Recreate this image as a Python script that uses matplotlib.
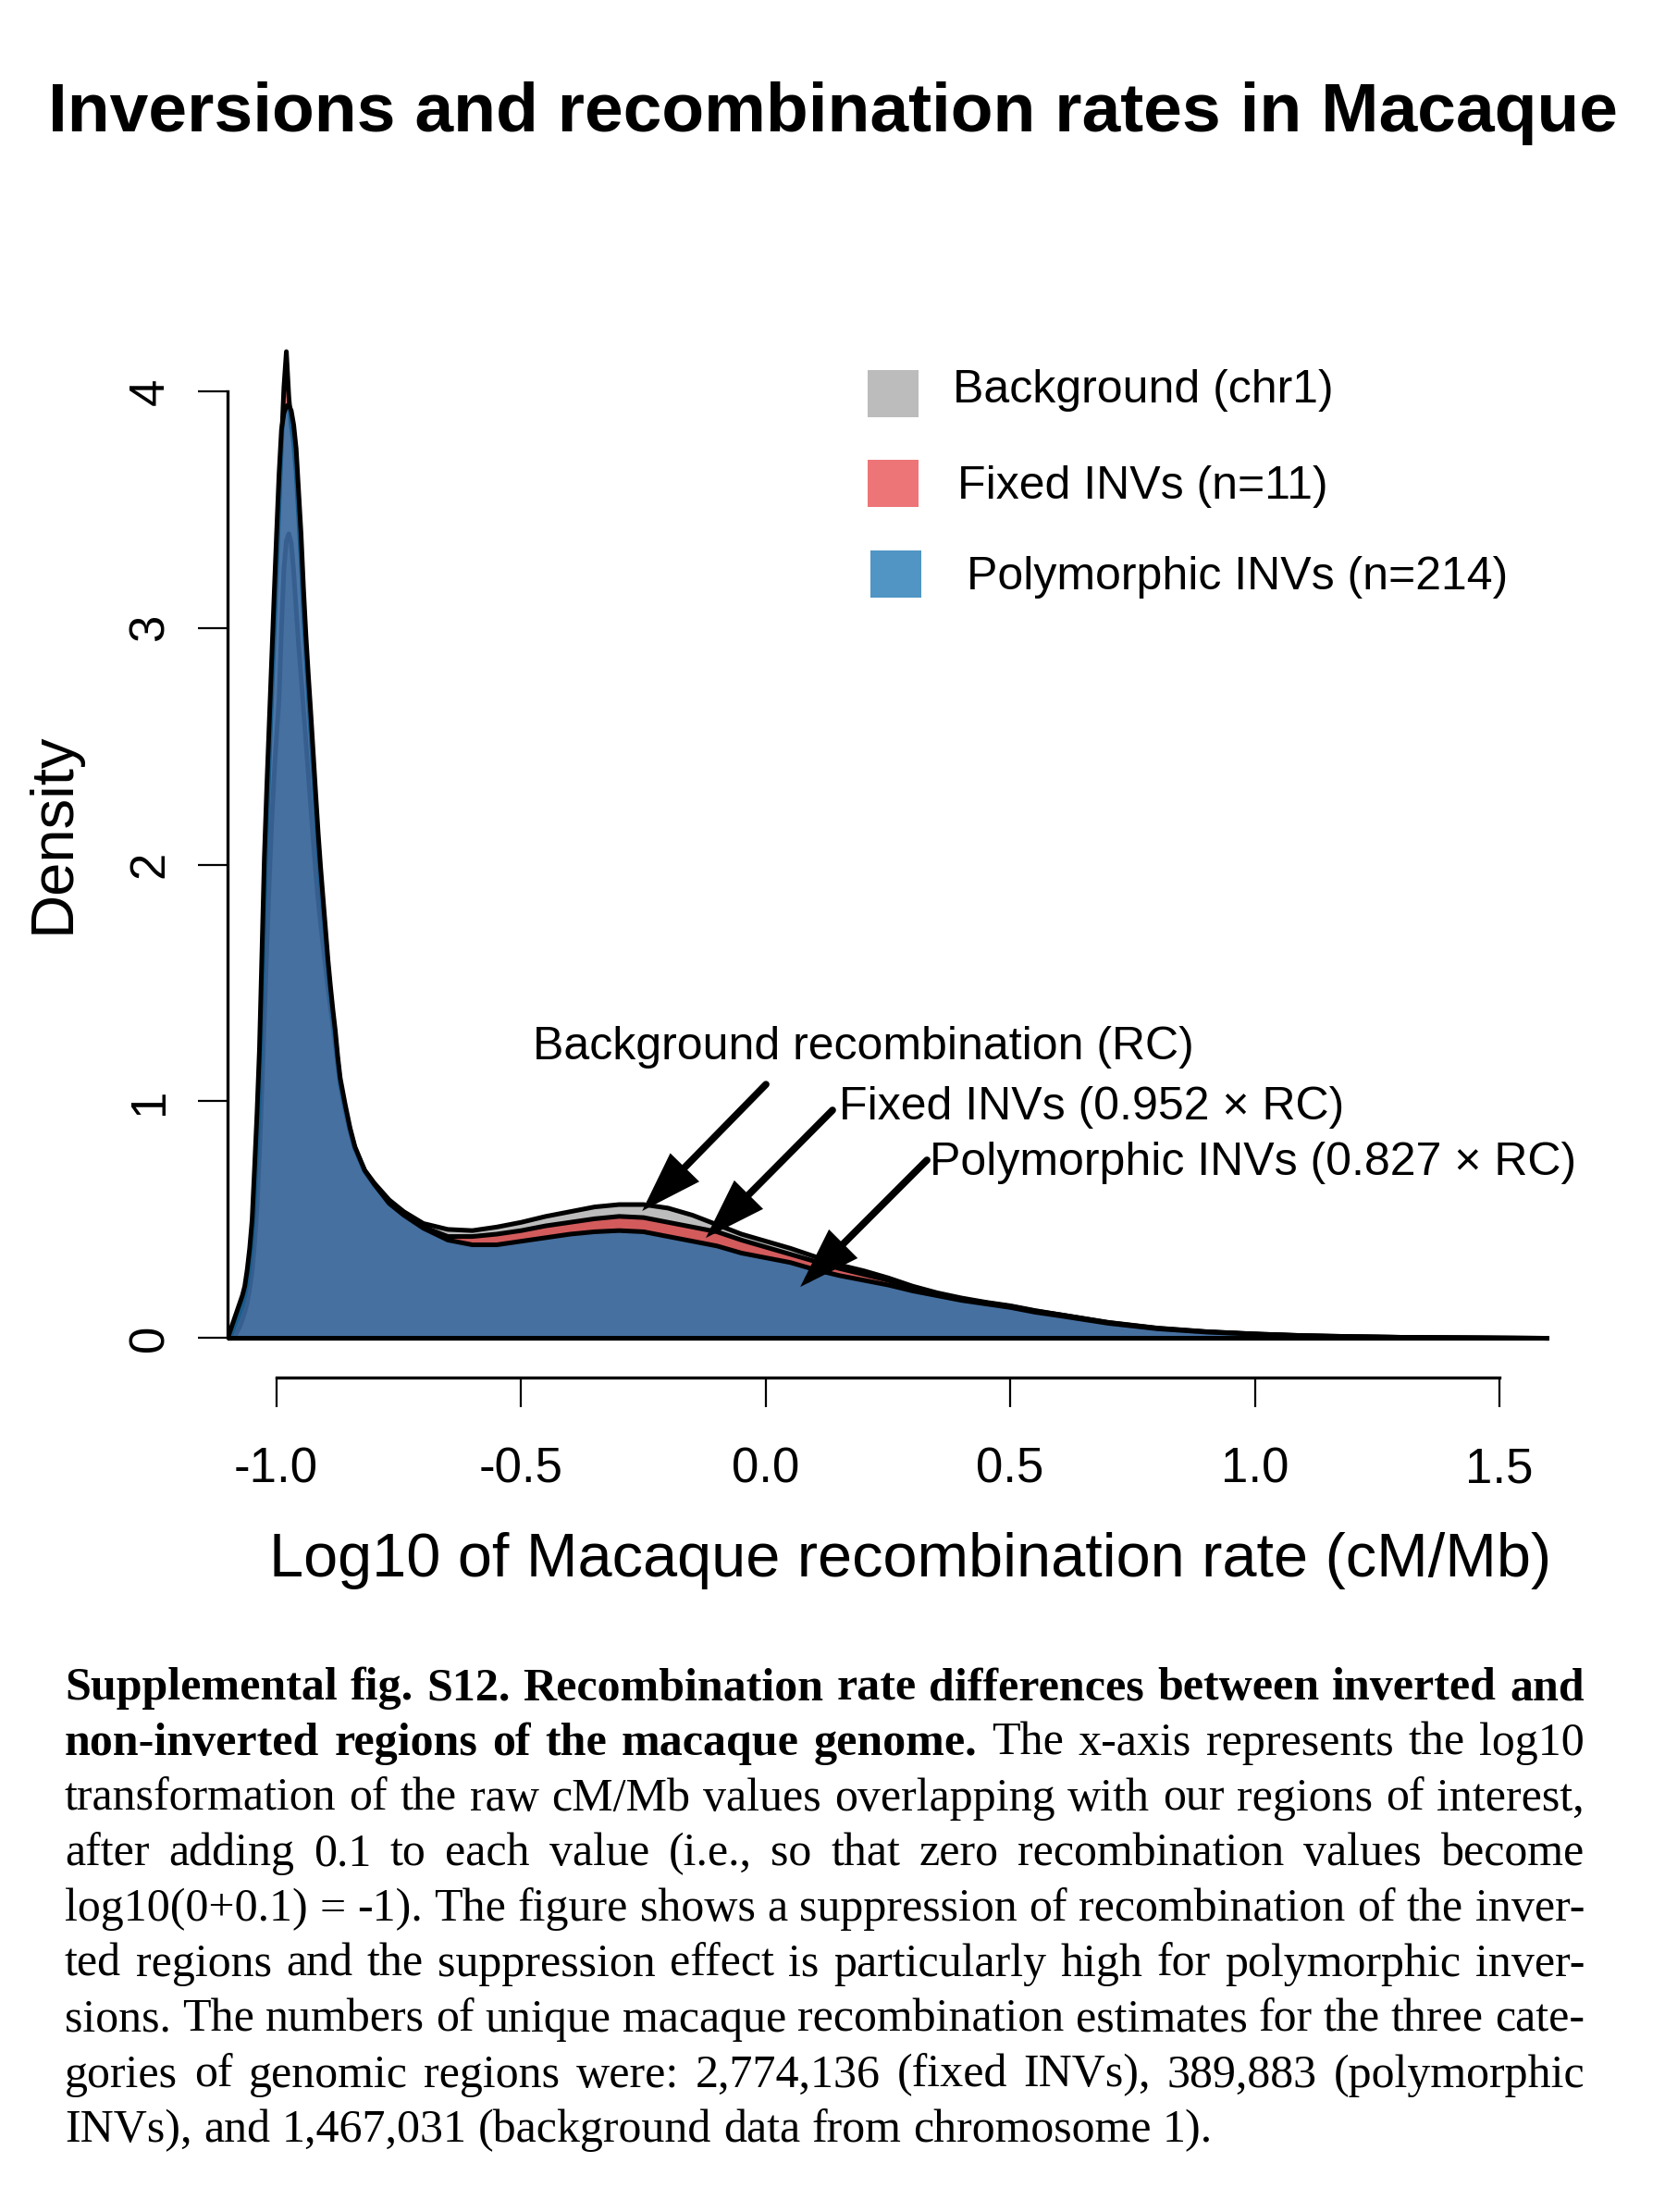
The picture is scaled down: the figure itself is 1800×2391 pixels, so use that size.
import matplotlib
matplotlib.use("Agg")
import matplotlib.pyplot as plt
from matplotlib.patches import Rectangle

plt.rcParams['font.family'] = ['Liberation Sans', 'DejaVu Sans']

# ---- data (density curves) ----
x_grid = [-1.100, -1.095, -1.090, -1.085, -1.080, -1.075, -1.070, -1.065, -1.060, -1.055,
          -1.050, -1.045, -1.040, -1.035, -1.030, -1.025, -1.020, -1.015, -1.010, -1.005,
          -1.000, -0.995, -0.990, -0.985, -0.980, -0.975, -0.970, -0.965, -0.960, -0.955,
          -0.950, -0.945, -0.940, -0.935, -0.930, -0.925, -0.920, -0.915, -0.910, -0.905,
          -0.900, -0.895, -0.890, -0.885, -0.880, -0.875, -0.870,
          -0.86, -0.85, -0.84, -0.82, -0.80, -0.77, -0.74, -0.70,
          -0.65, -0.60, -0.55, -0.50, -0.45, -0.40, -0.35, -0.30, -0.25, -0.20,
          -0.15, -0.10, -0.05, 0.00, 0.05, 0.10, 0.15, 0.20, 0.25, 0.30,
          0.35, 0.40, 0.45, 0.50, 0.55, 0.60, 0.70, 0.80, 0.90, 1.00,
          1.10, 1.20, 1.30, 1.40, 1.50, 1.60]

background = [0.0, 0.0, 0.0, 0.01, 0.03, 0.05, 0.08, 0.11, 0.15, 0.21,
              0.28, 0.40, 0.55, 0.78, 1.05, 1.35, 1.65, 1.93, 2.18, 2.38,
              2.55, 2.70, 3.00, 3.25, 3.37, 3.40, 3.36, 3.24, 3.08, 2.93,
              2.80, 2.66, 2.52, 2.38, 2.24, 2.10, 1.97, 1.85, 1.75, 1.66,
              1.57, 1.48, 1.40, 1.32, 1.24, 1.15, 1.07,
              0.965, 0.875, 0.80, 0.71, 0.655, 0.585, 0.535, 0.485,
              0.46, 0.455, 0.47, 0.49, 0.515, 0.535, 0.555, 0.565, 0.565, 0.55,
              0.52, 0.48, 0.44, 0.41, 0.38, 0.345, 0.31, 0.285, 0.255, 0.22,
              0.192, 0.17, 0.152, 0.137, 0.117, 0.10, 0.067, 0.043, 0.028, 0.018,
              0.011, 0.007, 0.004, 0.0025, 0.0012, 0.0]

fixed = [0.0, 0.01, 0.03, 0.055, 0.08, 0.11, 0.14, 0.18, 0.23, 0.31,
         0.41, 0.58, 0.80, 1.03, 1.38, 1.80, 2.15, 2.45, 2.72, 2.98,
         3.25, 3.52, 3.78, 4.02, 4.17, 3.98, 3.86, 3.78, 3.66, 3.48,
         3.29, 3.07, 2.89, 2.72, 2.56, 2.40, 2.23, 2.07, 1.93, 1.81,
         1.69, 1.57, 1.46, 1.36, 1.27, 1.17, 1.08,
         0.975, 0.88, 0.805, 0.705, 0.648, 0.572, 0.522, 0.47,
         0.43, 0.43, 0.44, 0.455, 0.475, 0.49, 0.505, 0.515, 0.51, 0.49,
         0.47, 0.45, 0.415, 0.385, 0.355, 0.325, 0.295, 0.27, 0.245, 0.21,
         0.187, 0.165, 0.15, 0.135, 0.115, 0.10, 0.066, 0.042, 0.027, 0.018,
         0.011, 0.007, 0.004, 0.0025, 0.0012, 0.0]

polymorphic = [0.0, 0.03, 0.06, 0.09, 0.12, 0.15, 0.18, 0.22, 0.29, 0.38,
               0.50, 0.72, 0.95, 1.22, 1.62, 2.03, 2.33, 2.60, 2.87, 3.14,
               3.40, 3.65, 3.84, 3.91, 3.94, 3.945, 3.92, 3.86, 3.76, 3.58,
               3.40, 3.17, 2.97, 2.80, 2.64, 2.47, 2.30, 2.135, 1.99, 1.86,
               1.73, 1.60, 1.49, 1.39, 1.30, 1.19, 1.10,
               0.99, 0.89, 0.81, 0.71, 0.65, 0.57, 0.52, 0.465,
               0.415, 0.395, 0.395, 0.41, 0.425, 0.44, 0.45, 0.455, 0.45, 0.43,
               0.41, 0.39, 0.36, 0.34, 0.32, 0.29, 0.265, 0.245, 0.225, 0.20,
               0.18, 0.16, 0.145, 0.13, 0.11, 0.095, 0.063, 0.040, 0.026, 0.017,
               0.010, 0.006, 0.004, 0.0025, 0.0012, 0.0]

labels = ["Background (chr1)", "Fixed INVs (n=11)", "Polymorphic INVs (n=214)"]
fills = [(0.737, 0.737, 0.737, 1.0), (0.894, 0.102, 0.110, 0.6), (0.122, 0.467, 0.706, 0.78)]

x_ticks = [-1.0, -0.5, 0.0, 0.5, 1.0, 1.5]
x_ticklabels = ["-1.0", "-0.5", "0.0", "0.5", "1.0", "1.5"]
y_ticks = [0, 1, 2, 3, 4]

W, H = 1800, 2391


def fx(x):
    return x / W


def fy(y):
    return 1 - y / H


fig = plt.figure(figsize=(W / 100, H / 100), dpi=100)
ax = fig.add_axes([fx(245.6), fy(1488.7), fx(1674) - fx(245.6), fy(336.9) - fy(1488.7)])

for ys, fc in zip([background, fixed, polymorphic], fills):
    ax.fill_between(x_grid, 0, ys, facecolor=fc, edgecolor='black', linewidth=3.6, zorder=2)

ax.set_xlim(-1.1, 1.6)
ax.set_ylim(-0.1668, 4.3368)
for s in ['top', 'right']:
    ax.spines[s].set_visible(False)
ax.spines['left'].set_bounds(0, 4)
ax.spines['bottom'].set_bounds(-1, 1.5)
ax.spines['left'].set_linewidth(2.4)
ax.spines['bottom'].set_linewidth(2.4)
ax.set_xticks(x_ticks)
ax.set_xticklabels(x_ticklabels)
ax.set_yticks(y_ticks)
ax.set_yticklabels([str(v) for v in y_ticks])
ax.tick_params(axis='both', direction='out', length=23, width=1.6, labelsize=38)
ax.tick_params(axis='x', pad=31)
ax.tick_params(axis='y', pad=19, labelrotation=90)
for t in ax.get_yticklabels():
    t.set_va('center')

# annotations with arrows
notes = [("Background recombination (RC)", (-0.4754, 1.177), (0.001, 1.071), (-0.252, 0.536)),
         ("Fixed INVs (0.952 \u00d7 RC)", (0.150, 0.923), (0.137, 0.962), (-0.122, 0.422)),
         ("Polymorphic INVs (0.827 \u00d7 RC)", (0.3355, 0.688), (0.330, 0.751), (0.071, 0.215))]
for txt, tpos, start, end in notes:
    ax.text(tpos[0], tpos[1], txt, fontsize=36, ha='left', va='baseline', zorder=4)
    ax.annotate('', xy=end, xytext=start,
                arrowprops=dict(arrowstyle='-|>,head_length=0.9,head_width=0.3', color='black',
                                lw=5.5, mutation_scale=40, shrinkA=0, shrinkB=0,
                                joinstyle='miter'), zorder=4)

# legend drawn by hand
leg_boxes = [(938, 400), (938, 497), (941, 595)]
leg_text = [(1030, 435), (1035, 539), (1045, 637)]
for (bx, by), (tx, ty), lab, fc in zip(leg_boxes, leg_text, labels, fills):
    fig.patches.append(Rectangle((fx(bx), fy(by + 51)), 55 / W, 51 / H, transform=fig.transFigure,
                                 facecolor=fc, edgecolor='none'))
    fig.text(fx(tx), fy(ty), lab, fontsize=36, ha='left', va='baseline')

# titles and axis labels
fig.text(0.5, fy(142), "Inversions and recombination rates in Macaque", fontsize=54,
         fontweight='bold', ha='center', va='baseline')
fig.text(fx(984), fy(1687), "Log10 of Macaque recombination rate (cM/Mb)", fontsize=48,
         ha='center', va='center')
fig.text(fx(58), fy(900), "Density", fontsize=47, rotation=90, ha='center', va='center')

# caption, justified
caption = [
    [("Supplemental fig. S12. Recombination rate differences between inverted and", 'bold')],
    [("non-inverted regions of the macaque genome.", 'bold'), ("The x-axis represents the log10", 'normal')],
    [("transformation of the raw cM/Mb values overlapping with our regions of interest,", 'normal')],
    [("after adding 0.1 to each value (i.e., so that zero recombination values become", 'normal')],
    [("log10(0+0.1) = -1). The figure shows a suppression of recombination of the inver-", 'normal')],
    [("ted regions and the suppression effect is particularly high for polymorphic inver-", 'normal')],
    [("sions. The numbers of unique macaque recombination estimates for the three cate-", 'normal')],
    [("gories of genomic regions were: 2,774,136 (fixed INVs), 389,883 (polymorphic", 'normal')],
    [("INVs), and 1,467,031 (background data from chromosome 1).", 'normal')],
]
renderer = fig.canvas.get_renderer()
X0, X1 = 70, 1713
base0, step = 1837, 59.8
for i, line in enumerate(caption):
    words = []
    for chunk, wt in line:
        for w in chunk.split():
            words.append((w, wt))
    y = base0 + i * step
    size = 36
    while True:
        arts = [fig.text(0, fy(y), w, fontsize=size, fontweight=wt, family='Liberation Serif',
                         ha='left', va='baseline') for w, wt in words]
        widths = [a.get_window_extent(renderer).width for a in arts]
        if i == len(caption) - 1:
            gap = 0.25 * size * 100 / 72
        else:
            gap = (X1 - X0 - sum(widths)) / (len(words) - 1)
        if gap >= 0.17 * size * 100 / 72 or size < 28:
            break
        for a in arts:
            a.remove()
        size -= 0.5
    x = X0
    for a, wd in zip(arts, widths):
        a.set_x(fx(x))
        x += wd + gap

fig.savefig("out.png", dpi=100)
